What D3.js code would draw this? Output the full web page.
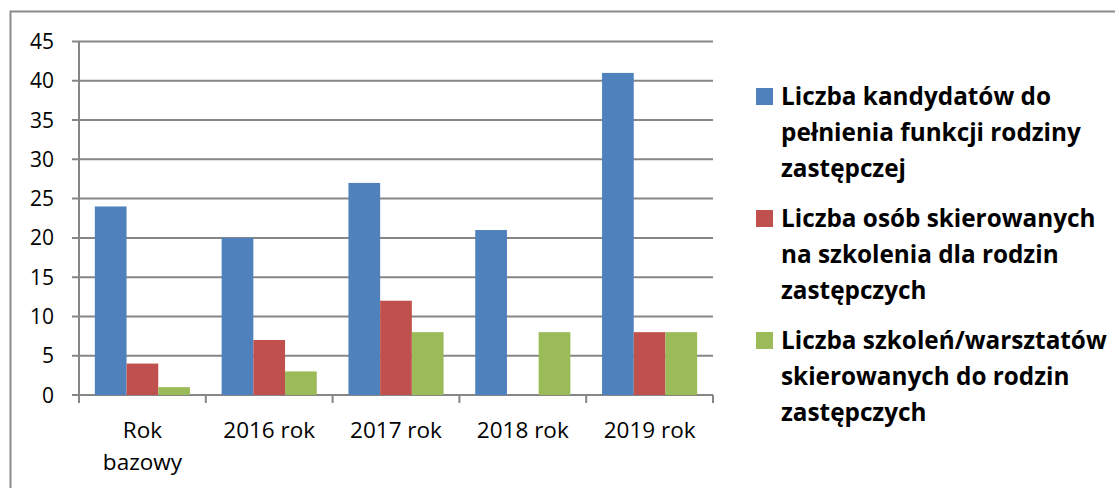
<!DOCTYPE html>
<html>
<head>
<meta charset="utf-8">
<script src="https://cdn.jsdelivr.net/npm/d3@7"></script>
<style>
  body { margin: 0; background: #fff; }
  svg { display: block; }
</style>
</head>
<body>
<svg id="chart" width="1115" height="488"></svg>
<script>
const categories = [["Rok", "bazowy"], ["2016 rok"], ["2017 rok"], ["2018 rok"], ["2019 rok"]];
const seriesNames = [
  ["Liczba kandydatów do", "pełnienia funkcji rodziny", "zastępczej"],
  ["Liczba osób skierowanych", "na szkolenia dla rodzin", "zastępczych"],
  ["Liczba szkoleń/warsztatów", "skierowanych do rodzin", "zastępczych"],
];
const candidates = [24, 20, 27, 21, 41];
const referred = [4, 7, 12, 0, 8];
const trainings = [1, 3, 8, 8, 8];
const yTicks = [0, 5, 10, 15, 20, 25, 30, 35, 40, 45];
const colors = ["#4f81bd", "#c0504d", "#9bbb59"];

const series = [candidates, referred, trainings];
const font = "'Open Sans', sans-serif";

const svg = d3.select("#chart");

// outer frame (only top and left visible)
svg.append("path")
  .attr("d", "M 10.5,500 L 10.5,11.5 L 1120,11.5")
  .attr("fill", "none")
  .attr("stroke", "#8c8c8c")
  .attr("stroke-width", 2);

const plotLeft = 79, plotRight = 713, plotTop = 41.5, plotBottom = 395;

const x = d3.scaleBand()
  .domain(d3.range(categories.length))
  .range([plotLeft, plotRight])
  .paddingInner(0)
  .paddingOuter(0);

const x1 = d3.scaleBand()
  .domain(d3.range(series.length))
  .range([0, x.bandwidth()])
  .paddingOuter(0.5)
  .paddingInner(0);

const y = d3.scaleLinear().domain([0, 45]).range([plotBottom, plotTop]);

// gridlines
svg.append("g")
  .selectAll("line")
  .data(yTicks)
  .join("line")
  .attr("x1", plotLeft - 7)
  .attr("x2", plotRight)
  .attr("y1", d => y(d))
  .attr("y2", d => y(d))
  .attr("stroke", "#868686")
  .attr("stroke-width", 2);

// y axis line
svg.append("line")
  .attr("x1", plotLeft).attr("x2", plotLeft)
  .attr("y1", plotTop).attr("y2", plotBottom)
  .attr("stroke", "#868686")
  .attr("stroke-width", 2);

// x axis tick marks
svg.append("g")
  .selectAll("line")
  .data(d3.range(categories.length + 1))
  .join("line")
  .attr("x1", d => plotLeft + d * x.step())
  .attr("x2", d => plotLeft + d * x.step())
  .attr("y1", plotBottom)
  .attr("y2", plotBottom + 8)
  .attr("stroke", "#868686")
  .attr("stroke-width", 2);

// bars
series.forEach((values, s) => {
  svg.append("g")
    .selectAll("rect")
    .data(values)
    .join("rect")
    .attr("x", (d, i) => x(i) + x1(s))
    .attr("y", d => y(d))
    .attr("width", x1.bandwidth())
    .attr("height", d => plotBottom - y(d))
    .attr("fill", colors[s]);
});

// y labels
svg.append("g")
  .selectAll("text")
  .data(yTicks)
  .join("text")
  .attr("x", 54)
  .attr("y", d => y(d) + 7.5)
  .attr("text-anchor", "end")
  .attr("font-family", font)
  .attr("font-size", 21)
  .attr("fill", "#000")
  .text(d => d);

// x labels
const xl = svg.append("g")
  .selectAll("text")
  .data(categories)
  .join("text")
  .attr("x", (d, i) => x(i) + x.bandwidth() / 2)
  .attr("y", 438)
  .attr("text-anchor", "middle")
  .attr("font-family", font)
  .attr("font-size", 22.5)
  .attr("fill", "#000");

xl.selectAll("tspan")
  .data(d => d)
  .join("tspan")
  .attr("x", function () { return this.parentNode.getAttribute("x"); })
  .attr("dy", (d, i) => i === 0 ? 0 : 32)
  .text(d => d);

// legend
const legendBase = [105, 227, 349];
const legend = svg.append("g");
seriesNames.forEach((lines, s) => {
  legend.append("rect")
    .attr("x", 756)
    .attr("y", legendBase[s] - 17)
    .attr("width", 17)
    .attr("height", 17)
    .attr("fill", colors[s]);
  const t = legend.append("text")
    .attr("x", 781)
    .attr("y", legendBase[s])
    .attr("font-family", font)
    .attr("font-weight", "bold")
    .attr("font-size", 24.3)
    .attr("fill", "#000");
  lines.forEach((line, i) => {
    t.append("tspan")
      .attr("x", 781)
      .attr("dy", i === 0 ? 0 : 36)
      .text(line);
  });
});
</script>
</body>
</html>
